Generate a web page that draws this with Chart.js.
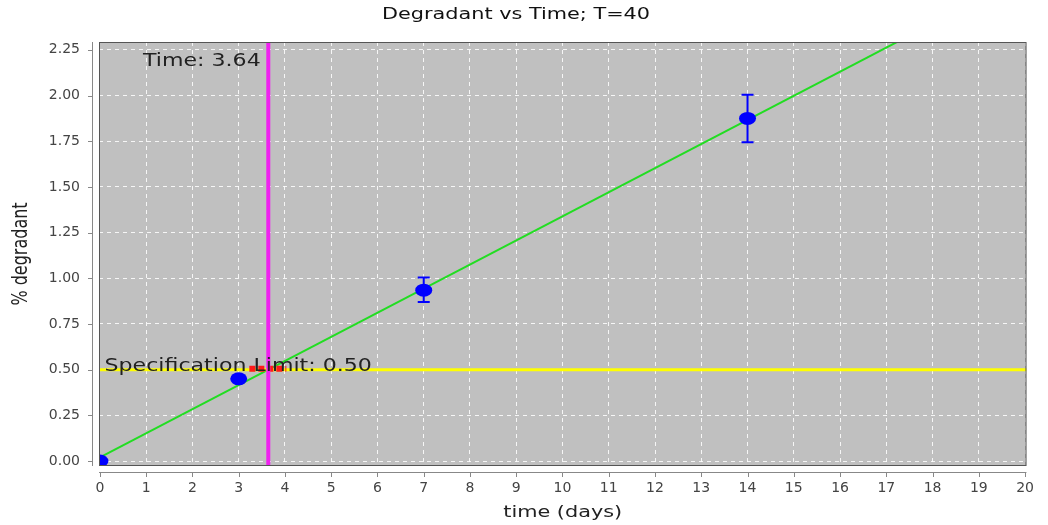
<!DOCTYPE html>
<html>
<head>
<meta charset="utf-8">
<script src="https://cdn.jsdelivr.net/npm/chart.js@4/dist/chart.umd.min.js"></script>
<style>
  html, body { margin: 0; padding: 0; background: #fff; }
  #wrap { width: 1048px; height: 525px; }
</style>
</head>
<body>
<div id="wrap"><canvas id="degChart"></canvas></div>
<script>
// measured points
const times = [0, 3, 7, 14];
const degradant = [0, 0.45, 0.935, 1.875];
const errLow = [0, 0.435, 0.87, 1.745];
const errHigh = [0, 0.465, 1.005, 2.005];

// regression line end points
const fitX = [0, 20];
const fitY = [0.02, 2.658];

// specification limit and crossing time
const specLimit = 0.5;
const crossTime = 3.64;
const crossInterval = [3.23, 4.03];

const xTicks = [0, 1, 2, 3, 4, 5, 6, 7, 8, 9, 10, 11, 12, 13, 14, 15, 16, 17, 18, 19, 20];
const yTicks = [0, 0.25, 0.5, 0.75, 1.0, 1.25, 1.5, 1.75, 2.0, 2.25];

const chartTitle = "Degradant vs Time; T=40";
const xTitle = "time (days)";
const yTitle = "% degradant";

const font = "'DejaVu Sans', Verdana, sans-serif";
const stretch = 1.3; // the original picture is wider than tall

// text drawn a bit wider, like the original
function wideText(ctx, text, x, y, size, align, rotate) {
  ctx.save();
  ctx.font = size + "px " + font;
  ctx.textAlign = align;
  ctx.translate(x, y);
  ctx.scale(stretch, 1);
  if (rotate) ctx.rotate(-Math.PI / 2);
  ctx.fillText(text, 0, 0);
  ctx.restore();
}

const plotBack = {
  id: "plotBack",
  beforeDraw(chart) {
    const { ctx, chartArea: a } = chart;
    ctx.save();
    ctx.fillStyle = "#c0c0c0";
    ctx.fillRect(a.left, a.top, a.right - a.left, a.bottom - a.top);
    ctx.restore();
  },
  afterDraw(chart) {
    const { ctx, chartArea: a, scales } = chart;
    ctx.save();
    // plot border
    ctx.strokeStyle = "#555";
    ctx.lineWidth = 1;
    ctx.strokeRect(a.left + 0.5, a.top + 0.5, a.right - a.left - 1, a.bottom - a.top - 1);
    // axis lines set off from the plot
    ctx.strokeStyle = "#888";
    ctx.beginPath();
    ctx.moveTo(a.left - 6.5, a.top);
    ctx.lineTo(a.left - 6.5, a.bottom);
    ctx.moveTo(a.left, a.bottom + 6.5);
    ctx.lineTo(a.right, a.bottom + 6.5);
    yTicks.forEach(v => {
      const y = Math.round(scales.y.getPixelForValue(v)) + 0.5;
      ctx.moveTo(a.left - 11, y);
      ctx.lineTo(a.left - 6.5, y);
    });
    xTicks.forEach(v => {
      const x = Math.round(scales.x.getPixelForValue(v)) + 0.5;
      ctx.moveTo(x, a.bottom + 6.5);
      ctx.lineTo(x, a.bottom + 11);
    });
    ctx.stroke();

    // titles
    ctx.fillStyle = "#111";
    ctx.textBaseline = "middle";
    wideText(ctx, chartTitle, 516, 15, 16, "center");
    ctx.fillStyle = "#222";
    wideText(ctx, xTitle, (a.left + a.right) / 2, 513, 16, "center");
    wideText(ctx, yTitle, 22, (a.top + a.bottom) / 2, 16, "center", true);
    ctx.restore();
  }
};

const marks = {
  id: "marks",
  afterDatasetsDraw(chart) {
    const { ctx, scales, chartArea: a } = chart;
    const xs = scales.x, ys = scales.y;
    ctx.save();
    ctx.beginPath();
    ctx.rect(a.left, a.top, a.right - a.left, a.bottom - a.top);
    ctx.clip();
    // red interval along the spec limit
    ctx.strokeStyle = "#ff1a1a";
    ctx.lineWidth = 6;
    ctx.setLineDash([6, 3]);
    ctx.beginPath();
    ctx.moveTo(xs.getPixelForValue(crossInterval[0]), ys.getPixelForValue(specLimit) - 1);
    ctx.lineTo(xs.getPixelForValue(crossInterval[1]), ys.getPixelForValue(specLimit) - 1);
    ctx.stroke();
    ctx.setLineDash([]);
    // magenta crossing line on top
    ctx.strokeStyle = "#f020f0";
    ctx.lineWidth = 4;
    ctx.beginPath();
    const cx = xs.getPixelForValue(crossTime);
    ctx.moveTo(cx, a.top);
    ctx.lineTo(cx, a.bottom);
    ctx.stroke();
    // error bars
    ctx.strokeStyle = "#0000ff";
    ctx.lineWidth = 2;
    times.forEach((t, i) => {
      if (errHigh[i] - errLow[i] <= 0) return;
      const x = xs.getPixelForValue(t);
      const y1 = ys.getPixelForValue(errLow[i]);
      const y2 = ys.getPixelForValue(errHigh[i]);
      ctx.beginPath();
      ctx.moveTo(x, y1); ctx.lineTo(x, y2);
      ctx.moveTo(x - 6, y1); ctx.lineTo(x + 6, y1);
      ctx.moveTo(x - 6, y2); ctx.lineTo(x + 6, y2);
      ctx.stroke();
    });
    // points, a little wider than tall
    ctx.fillStyle = "#0000ff";
    times.forEach((t, i) => {
      ctx.beginPath();
      ctx.ellipse(xs.getPixelForValue(t), ys.getPixelForValue(degradant[i]), 8.5, 6.5, 0, 0, Math.PI * 2);
      ctx.fill();
    });
    // labels
    ctx.fillStyle = "#222";
    ctx.textBaseline = "alphabetic";
    wideText(ctx, "Time: " + crossTime.toFixed(2), xs.getPixelForValue(0.93), ys.getPixelForValue(2.16), 17, "left");
    wideText(ctx, "Specification Limit: " + specLimit.toFixed(2), xs.getPixelForValue(0.1), ys.getPixelForValue(specLimit) + 1, 17, "left");
    ctx.restore();
  }
};

new Chart(document.getElementById("degChart"), {
  type: "scatter",
  data: {
    datasets: [
      {
        type: "line",
        data: [{ x: -1, y: specLimit }, { x: 21, y: specLimit }],
        borderColor: "#ffff00",
        borderWidth: 3,
        pointRadius: 0,
      },
      {
        type: "line",
        data: fitX.map((x, i) => ({ x: x, y: fitY[i] })),
        borderColor: "#22dd22",
        borderWidth: 2,
        pointRadius: 0,
      },
    ],
  },
  options: {
    responsive: true,
    maintainAspectRatio: false,
    animation: false,
    layout: { padding: { left: 0, right: 19, top: 42, bottom: 0 } },
    plugins: {
      legend: { display: false },
      tooltip: { enabled: false },
      title: { display: false },
    },
    scales: {
      x: {
        type: "linear",
        min: -0.02,
        max: 20.03,
        afterBuildTicks: (s) => { s.ticks = xTicks.map(v => ({ value: v })); },
        afterFit: (s) => { s.height = 59; },
        grid: { color: "rgba(255,255,255,0.85)", drawTicks: false },
        border: { display: false, dash: [4, 4] },
        ticks: { color: "#444", font: { family: font, size: 14 }, padding: 14, autoSkip: false },
      },
      y: {
        type: "linear",
        min: -0.027,
        max: 2.293,
        afterBuildTicks: (s) => { s.ticks = yTicks.map(v => ({ value: v })); },
        afterFit: (s) => { s.width = 99; },
        grid: { color: "rgba(255,255,255,0.85)", drawTicks: false },
        border: { display: false, dash: [4, 4] },
        ticks: { color: "#444", font: { family: font, size: 14 }, padding: 19, callback: (v) => v.toFixed(2) },
      },
    },
  },
  plugins: [plotBack, marks],
});
</script>
</body>
</html>
